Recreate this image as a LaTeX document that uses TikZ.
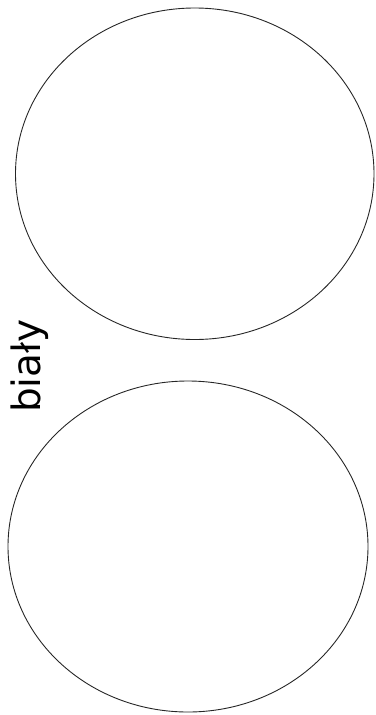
\documentclass[tikz,border=0pt]{standalone}
\usepackage{fontspec}
\setmainfont{DejaVu Sans}
\begin{document}
\begin{tikzpicture}[x=1pt,y=-1pt,
  oval/.style={draw=black!85,line width=0.9pt}]
\useasboundingbox (0,0) rectangle (375,715);
\draw[oval] (194.75,173.75) ellipse [x radius=179.25, y radius=165.75];
\draw[oval] (188,546.5) ellipse [x radius=180, y radius=165.5];
\node[anchor=base west,rotate=90,inner sep=0pt,font=\fontsize{39}{40}\selectfont] (lbl) at (40,413) {biały};
\end{tikzpicture}
\end{document}
